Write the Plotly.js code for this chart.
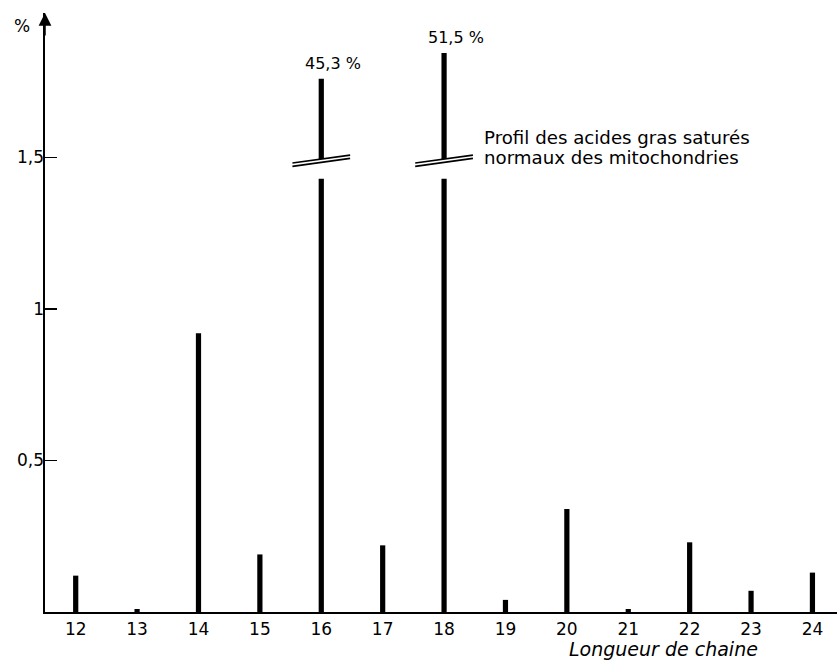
<!DOCTYPE html>
<html>
<head>
<meta charset="utf-8">
<script src="https://cdn.plot.ly/plotly-3.0.1.min.js"></script>
<style>html,body{margin:0;padding:0;background:#fff;}#chart{width:837px;height:660px;}</style>
</head>
<body>
<div id="chart"></div>
<script>
// Chain length categories and the % value of each saturated fatty acid
const chainLength = [12, 13, 14, 15, 16, 17, 18, 19, 20, 21, 22, 23, 24];
const percent = [0.12, 0.01, 0.92, 0.19, 45.3, 0.22, 51.5, 0.04, 0.34, 0.01, 0.23, 0.07, 0.13];
// Broken (off-scale) bars: drawn heights of their upper stubs above the break
const brokenX = [16, 18];
const brokenLabels = ["45,3 %", "51,5 %"];
const brokenDrawnTop = [1.76, 1.845];
const breakLow = 1.43;   // lower segment stops here
const breakHigh = 1.495; // upper segment starts here
const yTickVals = [0.5, 1, 1.5];
const yTickText = ["0,5", "1", "1,5"];
const xTickText = chainLength.map(String);
const noteLines = ["Profil des acides gras saturés", "normaux des mitochondries"];

const FONT = "DejaVu Sans, sans-serif";
const yMax = 1.977;
const xMin = 11.5, xMax = 24.4;
const barW = 0.085;

const isBroken = percent.map(v => v > yMax);
const lowY = percent.map((v, i) => isBroken[i] ? breakLow : v);

const traces = [
  { type: "bar", x: chainLength, y: lowY, width: barW,
    marker: { color: "#000", line: { width: 0 } }, hoverinfo: "x+y" },
  { type: "bar", x: brokenX, y: brokenDrawnTop.map(t => t - breakHigh), base: brokenX.map(() => breakHigh),
    width: barW, marker: { color: "#000", line: { width: 0 } }, hoverinfo: "x" }
];

const shapes = [];
brokenX.forEach((bx) => {
  [0, -0.011].forEach(dy => {
    shapes.push({ type: "line", xref: "x", yref: "y",
      x0: bx - 0.47, x1: bx + 0.47,
      y0: 1.482 + dy, y1: 1.508 + dy,
      line: { color: "#000", width: 1.7 } });
  });
});

const annotations = [
  { xref: "paper", yref: "paper", x: 0, y: 1, ax: 0, ay: 24, axref: "pixel", ayref: "pixel",
    text: "", showarrow: true, arrowhead: 2, arrowsize: 1.7, arrowwidth: 1.5, arrowcolor: "#000" },
  { xref: "paper", yref: "paper", x: -0.029, y: 0.979, xanchor: "center", yanchor: "middle",
    text: "%", showarrow: false, font: { family: FONT, size: 17, color: "#000" } },
  { xref: "paper", yref: "paper", x: 0.781, y: -0.061, xanchor: "center", yanchor: "middle",
    text: "<i>Longueur de chaine</i>", showarrow: false, font: { family: FONT, size: 19, color: "#000" } }
];
noteLines.forEach((t, i) => {
  annotations.push({ xref: "x", yref: "y", x: 18.62, y: 1.567 - i * 0.068, xanchor: "left", yanchor: "middle",
    align: "left", text: t, showarrow: false, font: { family: FONT, size: 18.2, color: "#000" } });
});
brokenX.forEach((bx, i) => {
  annotations.push({ xref: "x", yref: "y", x: bx, y: brokenDrawnTop[i], xanchor: "center", yanchor: "bottom",
    xshift: 12, yshift: 4, text: brokenLabels[i], showarrow: false,
    font: { family: FONT, size: 16, color: "#000" } });
});

const layout = {
  width: 837, height: 660,
  margin: { l: 45, r: 0, t: 13, b: 48, pad: 0 },
  paper_bgcolor: "#fff", plot_bgcolor: "#fff",
  showlegend: false, barmode: "overlay",
  font: { family: FONT, color: "#000" },
  xaxis: { range: [xMin, xMax], tickvals: chainLength, ticktext: xTickText, ticks: "",
    showgrid: false, zeroline: false, showline: true, linecolor: "#000", linewidth: 1.6,
    tickfont: { family: FONT, size: 17, color: "#000" }, ticklabelstandoff: 1, fixedrange: true },
  yaxis: { range: [0, yMax], tickvals: yTickVals, ticktext: yTickText, ticks: "inside", ticklen: 12,
    tickwidth: 1.3, tickcolor: "#000", showgrid: false, zeroline: false, showline: true,
    linecolor: "#000", linewidth: 1.6, tickfont: { family: FONT, size: 17, color: "#000" },
    ticklabelstandoff: -4, fixedrange: true },
  shapes: shapes,
  annotations: annotations
};

Plotly.newPlot("chart", traces, layout, { staticPlot: true, displayModeBar: false });
</script>
</body>
</html>
